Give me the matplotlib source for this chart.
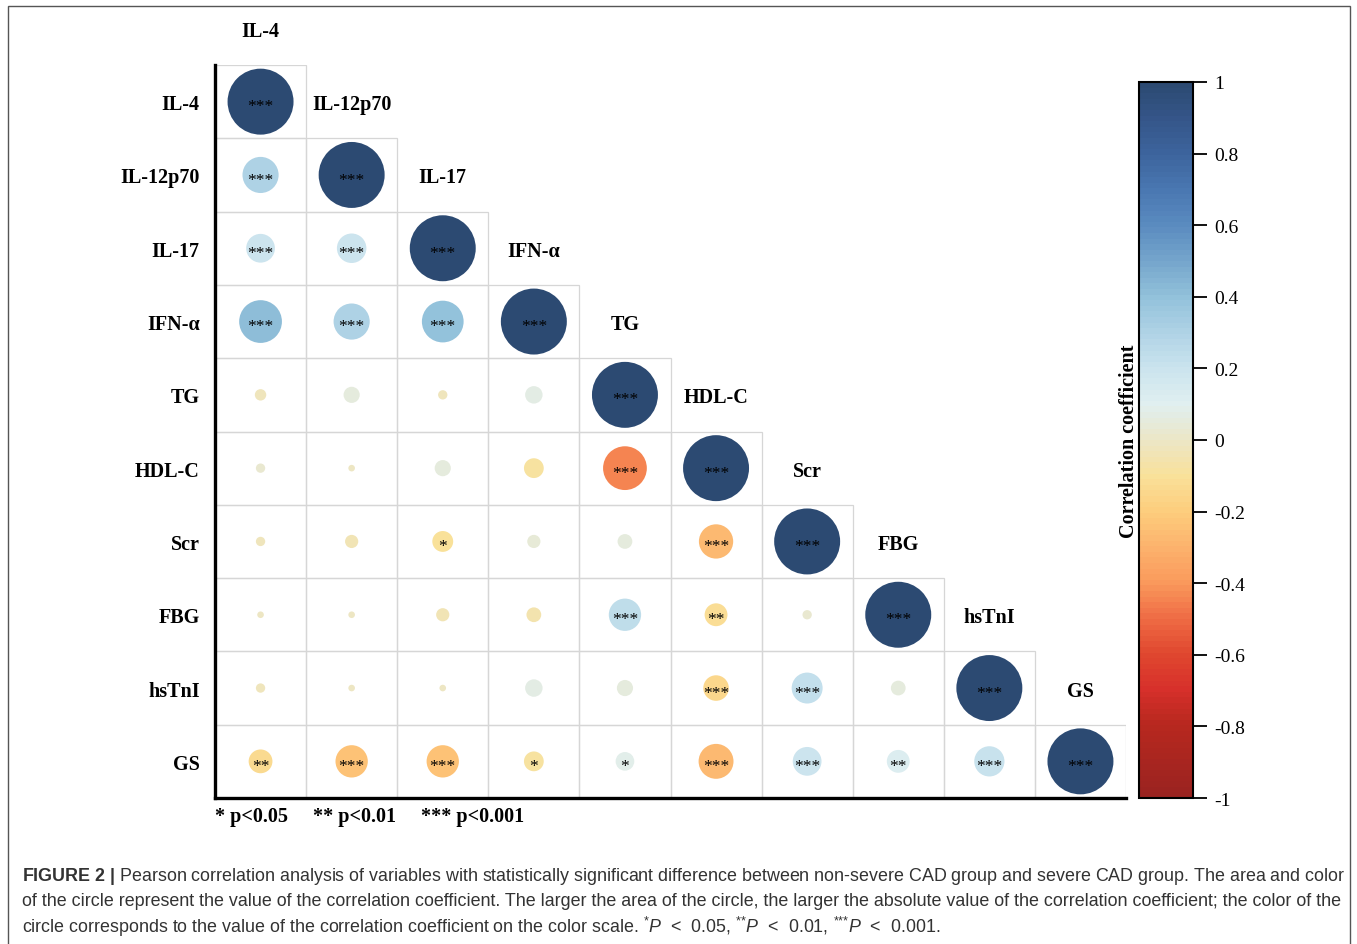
import numpy as np
import matplotlib.pyplot as plt
import matplotlib.cm as cm
from matplotlib.colors import LinearSegmentedColormap, Normalize
from matplotlib.patches import Rectangle

plt.rcParams['mathtext.fontset'] = 'custom'
plt.rcParams['mathtext.rm'] = 'Liberation Sans'
plt.rcParams['mathtext.it'] = 'Liberation Sans:italic'
plt.rcParams['mathtext.bf'] = 'Liberation Sans:bold'

SERIF = ['Liberation Serif', 'DejaVu Serif']

labels = ['IL-4', 'IL-12p70', 'IL-17', 'IFN-α', 'TG', 'HDL-C', 'Scr', 'FBG', 'hsTnI', 'GS']

# lower triangle, row by row (diagonal = 1 is added below)
corr_rows = [
    [],
    [0.30],
    [0.19, 0.20],
    [0.42, 0.30, 0.40],
    [-0.03, 0.06, -0.02, 0.07],
    [0.02, -0.01, 0.06, -0.09, -0.44],
    [-0.02, -0.04, -0.10, 0.04, 0.05, -0.27],
    [-0.01, -0.01, -0.04, -0.05, 0.24, -0.12, 0.02],
    [-0.02, -0.01, -0.01, 0.07, 0.06, -0.15, 0.22, 0.05],
    [-0.13, -0.24, -0.24, -0.09, 0.08, -0.28, 0.19, 0.12, 0.21],
]
sig_rows = [
    [],
    ['***'],
    ['***', '***'],
    ['***', '***', '***'],
    ['', '', '', ''],
    ['', '', '', '', '***'],
    ['', '', '*', '', '', '***'],
    ['', '', '', '', '***', '**', ''],
    ['', '', '', '', '', '***', '***', ''],
    ['**', '***', '***', '*', '*', '***', '***', '**', '***'],
]

cb_ticks = [1, 0.8, 0.6, 0.4, 0.2, 0, -0.2, -0.4, -0.6, -0.8, -1]
cb_ticklabels = ['1', '0.8', '0.6', '0.4', '0.2', '0', '-0.2', '-0.4', '-0.6', '-0.8', '-1']

legend_text = '* p<0.05     ** p<0.01     *** p<0.001'
caption = [
    r'$\bf{FIGURE\ 2\ |}$ Pearson correlation analysis of variables with statistically significant difference between non-severe CAD group and severe CAD group. The area and color',
    'of the circle represent the value of the correlation coefficient. The larger the area of the circle, the larger the absolute value of the correlation coefficient; the color of the',
    r'circle corresponds to the value of the correlation coefficient on the color scale. $^{{*}}P$  <  0.05, $^{{*}{*}}P$  <  0.01, $^{{*}{*}{*}}P$  <  0.001.',
]

cmap_stops = [
    (0.00, '#9a2320'), (0.10, '#b8281f'), (0.15, '#d7302b'), (0.20, '#e0482f'),
    (0.25, '#ef6c45'), (0.30, '#fa9a5c'), (0.35, '#fcb36d'), (0.40, '#fdcd7d'),
    (0.45, '#f9e19a'), (0.50, '#ece6c6'), (0.55, '#e0eff0'), (0.60, '#cbe4ee'),
    (0.65, '#b0d3e6'), (0.70, '#93c2db'), (0.75, '#76a6cc'), (0.80, '#5b8cc0'),
    (0.85, '#4a78b2'), (0.90, '#3d659e'), (0.95, '#35568a'), (1.00, '#2c4a72'),
]
cmap = LinearSegmentedColormap.from_list('corr', cmap_stops, N=128)
norm = Normalize(-1, 1)

W, H = 1357, 945
fig = plt.figure(figsize=(W / 100, H / 100), dpi=100)

# outer frame
fig.patches.append(Rectangle((8 / W, -0.05), (1350 - 8) / W, 1.05 - 7 / H,
                             transform=fig.transFigure, fill=False,
                             edgecolor='#555555', lw=1.0))

n = len(labels)
ax = fig.add_axes([215 / W, 1 - 799 / H, (1126 - 215) / W, (799 - 66) / H])
ax.set_xlim(-0.5, n - 0.5)
ax.set_ylim(n - 0.5, -0.5)
for s in ['top', 'right']:
    ax.spines[s].set_visible(False)
for s in ['left', 'bottom']:
    ax.spines[s].set_linewidth(2.4)
ax.set_xticks([])
ax.set_yticks(range(n))
ax.set_yticklabels(labels, fontfamily=SERIF, fontweight='bold', fontsize=14.5)
ax.tick_params(axis='y', length=0, pad=11)

xs, ys, vals, stars = [], [], [], []
for i in range(n):
    row = corr_rows[i] + [1.0]
    srow = sig_rows[i] + ['***']
    for j in range(i + 1):
        ax.add_patch(Rectangle((j - 0.5, i - 0.5), 1, 1, fill=False,
                               edgecolor='#d6d6d6', lw=0.9, zorder=1))
        xs.append(j)
        ys.append(i)
        vals.append(row[j])
        stars.append(srow[j])

vals = np.array(vals)
ax.scatter(xs, ys, s=47.5 ** 2 * np.abs(vals), c=vals, cmap=cmap, norm=norm,
           edgecolors='none', zorder=2)
for x, y, st in zip(xs, ys, stars):
    if st:
        ax.annotate(st, (x, y), xytext=(0, -3.3), textcoords='offset points',
                    ha='center', va='center', fontsize=12.5, fontfamily=SERIF,
                    color='black', zorder=3)

for i, lab in enumerate(labels):
    ax.annotate(lab, (i, i - 1), xytext=(0, -1.8), textcoords='offset points',
                ha='center', va='center', fontsize=14.5, fontfamily=SERIF,
                fontweight='bold', annotation_clip=False)

fig.text(215 / W, 1 - 817 / H, legend_text, ha='left', va='center',
         fontsize=14.5, fontfamily=SERIF, fontweight='bold')

# colour bar
cax = fig.add_axes([1139 / W, 1 - 799 / H, 54 / W, (799 - 83) / H])
cb = fig.colorbar(cm.ScalarMappable(norm=norm, cmap=cmap), cax=cax, ticks=cb_ticks)
cb.ax.set_yticklabels(cb_ticklabels, fontfamily=SERIF, fontsize=14)
cb.outline.set_linewidth(1.5)
cb.ax.tick_params(length=10, width=1.3, pad=5)
cb.ax.yaxis.set_label_position('left')
cb.set_label('Correlation coefficient', fontfamily=SERIF, fontweight='bold',
             fontsize=14.5, labelpad=0)

for k, line in enumerate(caption):
    fig.text(22 / W, 1 - (877 + 25 * k) / H, line, ha='left', va='center',
             fontsize=12.9, fontfamily='Liberation Sans', color='#333333')

fig.savefig('out.png', dpi=100)
